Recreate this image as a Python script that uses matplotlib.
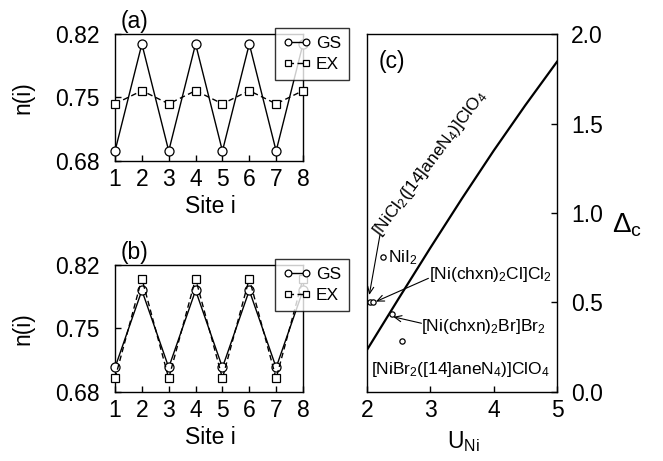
import matplotlib
matplotlib.use("Agg")
import matplotlib.pyplot as plt

plt.rcParams['font.family'] = ['Liberation Sans', 'DejaVu Sans']
plt.rcParams['mathtext.fontset'] = 'custom'
plt.rcParams['mathtext.rm'] = 'Liberation Sans'
plt.rcParams['mathtext.it'] = 'Liberation Sans:italic'
plt.rcParams['mathtext.bf'] = 'Liberation Sans:bold'

# data
sites = [1, 2, 3, 4, 5, 6, 7, 8]
gs_a = [0.691, 0.809, 0.691, 0.809, 0.691, 0.809, 0.691, 0.809]
ex_a = [0.743, 0.7575, 0.743, 0.7575, 0.743, 0.7575, 0.743, 0.7575]
gs_b = [0.707, 0.792, 0.707, 0.792, 0.707, 0.792, 0.707, 0.792]
ex_b = [0.695, 0.805, 0.695, 0.805, 0.695, 0.805, 0.695, 0.805]

u_line = [2.0, 2.5, 3.0, 3.5, 4.0, 4.5, 5.0]
d_line = [0.235, 0.522, 0.805, 1.081, 1.348, 1.602, 1.845]

u_pts = [2.05, 2.10, 2.26, 2.39, 2.55]
d_pts = [0.501, 0.501, 0.752, 0.434, 0.285]

n_ticks = [0.68, 0.75, 0.82]
FS = 16.5
FS_S = 12.5

fig = plt.figure(figsize=(6.63, 4.61), dpi=100)


def site_panel(rect, gs, ex, tag):
    ax = fig.add_axes(rect)
    ax.plot(sites, gs, '-', color='black', lw=1.0, marker='o', ms=6.5,
            mfc='white', mec='black', mew=0.9, label='GS', clip_on=False, zorder=3)
    ax.plot(sites, ex, color='black', lw=1.0, ls=(0, (4, 2.5)), marker='s', ms=5.2,
            mfc='white', mec='black', mew=0.9, label='EX', clip_on=False, zorder=3)
    ax.set_xlim(1, 8)
    ax.set_ylim(0.68, 0.82)
    ax.set_xticks(sites)
    ax.set_yticks(n_ticks)
    ax.set_yticklabels(['0.68', '0.75', '0.82'])
    ax.tick_params(axis='x', direction='in', length=4, width=1, pad=5, labelsize=FS)
    ax.tick_params(axis='y', direction='in', length=4, width=1, pad=11, labelsize=FS)
    for s in ax.spines.values():
        s.set_linewidth(1.0)
    ax.set_xlabel('Site i', fontsize=FS)
    ax.xaxis.set_label_coords(0.505, -0.27)
    ax.set_ylabel('n(i)', fontsize=FS)
    ax.yaxis.set_label_coords(-0.43, 0.5)
    ax.text(0.105, 1.005, tag, transform=ax.transAxes, fontsize=FS,
            ha='center', va='bottom')
    leg = ax.legend(loc='upper right', bbox_to_anchor=(1.245, 1.05), fontsize=FS_S,
                    frameon=True, fancybox=False, edgecolor='black', numpoints=2,
                    markerscale=0.75, handlelength=1.6, handletextpad=0.3,
                    borderpad=0.45, labelspacing=0.35, borderaxespad=0)
    leg.get_frame().set_linewidth(1.0)
    leg.set_zorder(5)
    return ax


ax_a = site_panel([0.1735, 0.6508, 0.2835, 0.2755], gs_a, ex_a, '(a)')
ax_b = site_panel([0.1735, 0.1497, 0.2835, 0.2755], gs_b, ex_b, '(b)')

# panel (c)
ax_c = fig.add_axes([0.5535, 0.1497, 0.2866, 0.7765])
ax_c.plot(u_line, d_line, color='black', lw=1.6)
ax_c.plot(u_pts, d_pts, 'o', ms=3.8, mfc='white', mec='black', mew=0.9)
ax_c.set_xlim(2, 5)
ax_c.set_ylim(0, 2)
ax_c.set_xticks([2, 3, 4, 5])
ax_c.set_yticks([0.0, 0.5, 1.0, 1.5, 2.0])
ax_c.set_yticklabels(['0.0', '0.5', '1.0', '1.5', '2.0'])
ax_c.yaxis.tick_right()
ax_c.tick_params(axis='x', direction='in', length=4, width=1, pad=5, labelsize=FS)
ax_c.tick_params(axis='y', direction='in', length=4, width=1, pad=10, labelsize=FS)
for s in ax_c.spines.values():
    s.set_linewidth(1.0)
ax_c.set_xlabel(r'U$_{\rm Ni}$', fontsize=FS)
ax_c.xaxis.set_label_coords(0.51, -0.105)
ax_c.set_ylabel(r'$\Delta_{\rm c}$', fontsize=20, rotation=0, ha='left', va='center')
ax_c.yaxis.set_label_position('right')
ax_c.yaxis.set_label_coords(1.29, 0.505)
ax_c.text(0.06, 0.955, '(c)', transform=ax_c.transAxes, fontsize=FS,
          ha='left', va='top')

arrow = dict(arrowstyle='->,head_length=0.5,head_width=0.22', color='black',
             lw=0.8, shrinkA=0, shrinkB=0)

ax_c.text(2.33, 0.752, r'NiI$_2$', fontsize=FS_S, ha='left', va='center')

ax_c.text(2.98, 0.655, r'[Ni(chxn)$_2$Cl]Cl$_2$', fontsize=FS_S, ha='left', va='center')
ax_c.annotate('', xy=(2.14, 0.505), xytext=(2.97, 0.635), arrowprops=arrow)

ax_c.text(2.86, 0.365, r'[Ni(chxn)$_2$Br]Br$_2$', fontsize=FS_S, ha='left', va='center')
ax_c.annotate('', xy=(2.415, 0.42), xytext=(2.86, 0.384), arrowprops=arrow)

ax_c.text(3.48, 0.123, r'[NiBr$_2$([14]aneN$_4$)]ClO$_4$', fontsize=FS_S,
          ha='center', va='center')

ax_c.text(2.995, 1.279, r'[NiCl$_2$([14]aneN$_4$)]ClO$_4$', fontsize=FS_S,
          ha='center', va='center', rotation=53, rotation_mode='anchor')
ax_c.annotate('', xy=(2.036, 0.542), xytext=(2.205, 0.877), arrowprops=arrow)

fig.savefig('out.png', dpi=100)
